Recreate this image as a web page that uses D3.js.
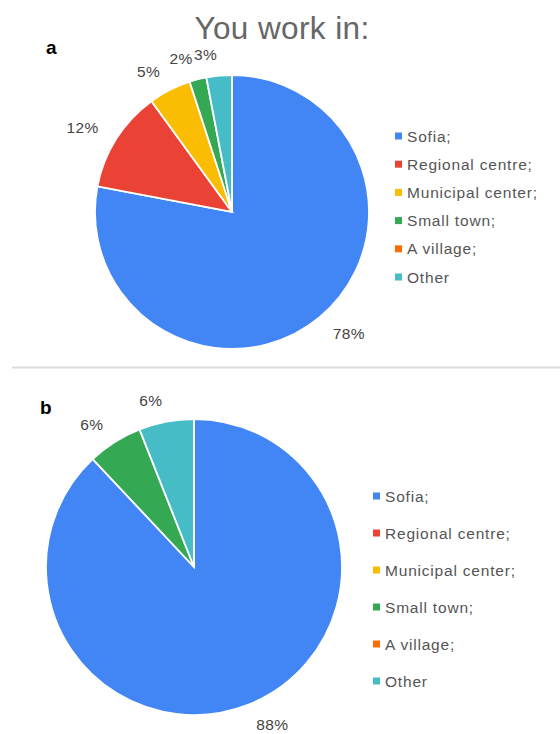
<!DOCTYPE html>
<html><head><meta charset="utf-8">
<script src="https://cdn.jsdelivr.net/npm/d3@7"></script>
<style>
html,body{margin:0;padding:0;background:#fff;}
svg{display:block;font-family:"Liberation Sans",Arial,sans-serif;}
</style></head>
<body><svg id="c" width="560" height="734"></svg>
<script>
const title = "You work in:";
const categories = ["Sofia;", "Regional centre;", "Municipal center;", "Small town;", "A village;", "Other"];
const colors = ["#4285f4", "#ea4335", "#fbbc04", "#34a853", "#ff6d01", "#46bdc6"];
const valuesA = [78, 12, 5, 2, 0, 3];
const valuesB = [88, 0, 0, 6, 0, 6];
const panelLabels = ["a", "b"];

const svg = d3.select("#c");

svg.append("text").attr("x", 282).attr("y", 39).attr("text-anchor", "middle")
  .attr("font-size", 31.5).attr("fill", "#666").attr("letter-spacing", 0.4).text(title);

svg.append("line").attr("x1", 12).attr("x2", 560).attr("y1", 367.5).attr("y2", 367.5)
  .attr("stroke", "#dcdcdc").attr("stroke-width", 2);

const panels = [
  {vals: valuesA, cx: 232, cy: 212, r: 137, label: panelLabels[0], lx: 46, ly: 54,
   legX: 395, legY: 136, legStep: 28.2},
  {vals: valuesB, cx: 194, cy: 567, r: 148, label: panelLabels[1], lx: 40, ly: 414,
   legX: 373, legY: 496, legStep: 37}
];

panels.forEach(p => {
  const data = categories.map((c, i) => ({cat: c, value: p.vals[i], color: colors[i]}));
  const pie = d3.pie().value(d => d.value).sort(null);
  const arcs = pie(data);
  const arc = d3.arc().innerRadius(0).outerRadius(p.r);
  const g = svg.append("g").attr("transform", `translate(${p.cx},${p.cy})`);
  g.selectAll("path").data(arcs.filter(a => a.data.value > 0)).join("path")
    .attr("d", arc).attr("fill", d => d.data.color)
    .attr("stroke", "#fff").attr("stroke-width", 1.8);
  const off = p.r + 21;
  g.selectAll("text.pct").data(arcs.filter(a => a.data.value > 0)).join("text")
    .attr("class", "pct")
    .each(function(d) {
      const m = (d.startAngle + d.endAngle) / 2;
      const x = Math.sin(m) * off, y = -Math.cos(m) * off;
      d3.select(this).attr("x", x).attr("y", y).attr("dy", "0.35em")
        .attr("text-anchor", x < 0 ? "end" : "start");
    })
    .attr("font-size", 15.5).attr("fill", "#444").attr("letter-spacing", 0.4)
    .text(d => d3.format(".0f")(d.data.value / d3.sum(p.vals) * 100) + "%");

  svg.append("text").attr("x", p.lx).attr("y", p.ly).attr("font-size", 19)
    .attr("font-weight", "bold").attr("fill", "#000").text(p.label);

  const lg = svg.append("g");
  categories.forEach((c, i) => {
    const y = p.legY + i * p.legStep;
    lg.append("rect").attr("x", p.legX).attr("y", y - 3.5).attr("width", 7).attr("height", 7)
      .attr("fill", colors[i]);
    lg.append("text").attr("x", p.legX + 12).attr("y", y).attr("dy", "0.36em")
      .attr("font-size", 15.5).attr("fill", "#555").attr("letter-spacing", 0.8).text(c);
  });
});
</script></body></html>
